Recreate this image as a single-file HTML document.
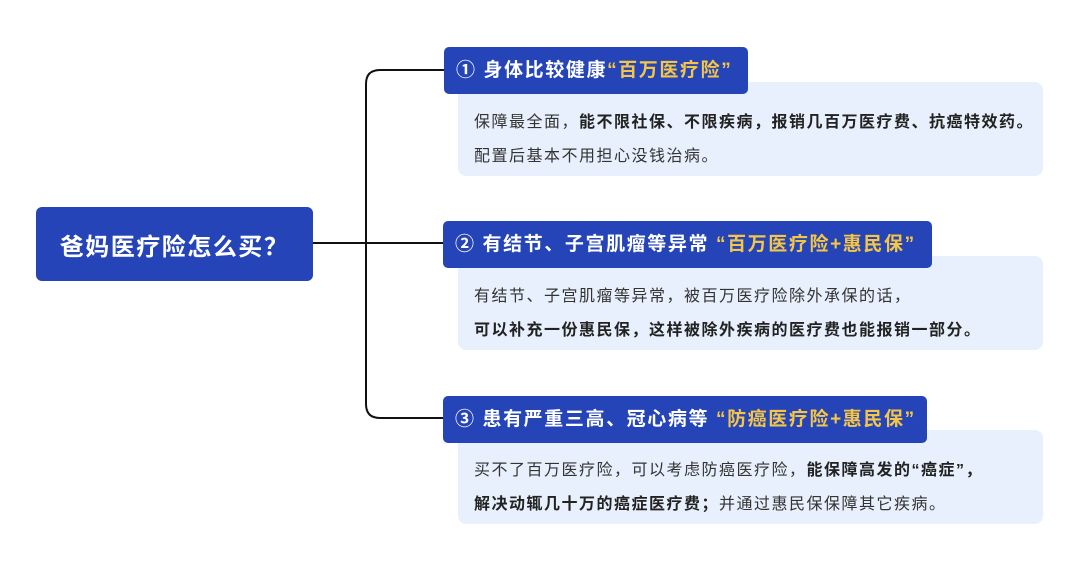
<!DOCTYPE html>
<html><head><meta charset="utf-8"><style>
body{margin:0;width:1080px;height:572px;background:#fff;position:relative;overflow:hidden;font-family:"Liberation Sans","Noto Sans CJK SC",sans-serif;}
.root{position:absolute;left:36px;top:207px;width:277px;height:74px;background:#2444b8;border-radius:6px;color:#fff;font-size:24px;font-weight:bold;display:flex;align-items:center;justify-content:center;letter-spacing:1.5px}
.hd{position:absolute;height:47px;background:#2444b8;border-radius:5px;color:#fff;font-size:19px;font-weight:bold;line-height:47px;padding-left:12px;box-sizing:border-box;z-index:2;letter-spacing:1.6px;white-space:nowrap}
.hd span{color:#f5c645}
.bd{position:absolute;left:458px;width:585px;height:94px;background:#e7f0fc;border-radius:8px;box-sizing:border-box;padding:24px 0 0 16px;font-size:16px;line-height:34px;color:#333;letter-spacing:1.5px;white-space:nowrap}
.bd b{color:#222}
</style></head><body>
<svg width="1080" height="572" style="position:absolute;left:0;top:0">
<path d="M313 243 H444" stroke="#111" stroke-width="2" fill="none"/>
<path d="M444 70 H380 Q366 70 366 84 V404 Q366 418 380 418 H444" stroke="#111" stroke-width="2" fill="none"/>
</svg>
<div class="root">爸妈医疗险怎么买？</div>
<div class="hd" style="left:444px;top:47px;width:304px">① 身体比较健康<span>“百万医疗险”</span></div>
<div class="bd" style="top:82px">保障最全面，<b>能不限社保、不限疾病，报销几百万医疗费、抗癌特效药。</b><br>配置后基本不用担心没钱治病。</div>
<div class="hd" style="left:443px;top:221px;width:489px">② 有结节、子宫肌瘤等异常 <span>“百万医疗险+惠民保”</span></div>
<div class="bd" style="top:256px">有结节、子宫肌瘤等异常，被百万医疗险除外承保的话，<br><b>可以补充一份惠民保，这样被除外疾病的医疗费也能报销一部分。</b></div>
<div class="hd" style="left:443px;top:396px;width:484px">③ 患有严重三高、冠心病等 <span>“防癌医疗险+惠民保”</span></div>
<div class="bd" style="top:430px">买不了百万医疗险，可以考虑防癌医疗险，<b>能保障高发的“癌症”，</b><br><b>解决动辄几十万的癌症医疗费；</b>并通过惠民保保障其它疾病。</div>
</body></html>
